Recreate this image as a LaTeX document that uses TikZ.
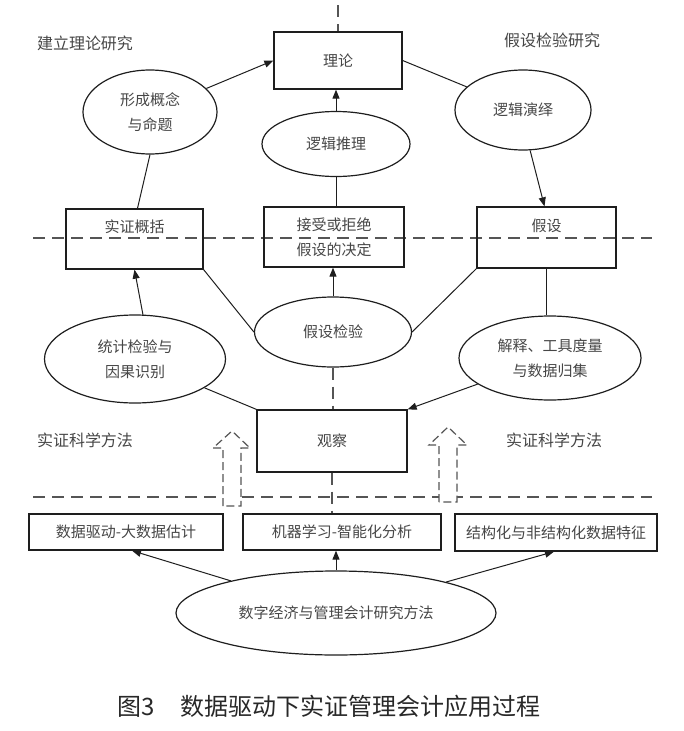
\documentclass[tikz,border=0pt]{standalone}
\usepackage{fontspec}
\setmainfont{Noto Sans CJK SC}
\usetikzlibrary{shapes.geometric,arrows.meta,calc}
\definecolor{txt}{RGB}{70,70,70}
\definecolor{ln}{RGB}{30,30,30}
\definecolor{dsh}{RGB}{85,85,85}
\definecolor{cap}{RGB}{40,40,40}
\newcommand\labfont{\fontsize{15}{25}\selectfont}
\newcommand\toplabfont{\fontsize{16}{25}\selectfont}
\newcommand\capfont{\fontsize{24}{28}\selectfont}
\begin{document}
\begin{tikzpicture}[x=1pt,y={(0pt,-1pt)},
  box/.style={draw=ln, line width=1.3pt, rectangle, inner sep=0pt, font=\labfont, text=txt, align=center},
  ell/.style={draw=ln, line width=1.2pt, ellipse, inner sep=0pt, font=\labfont, text=txt, align=center},
  conn/.style={draw=ln, line width=1pt},
  arr/.style={conn, -{Triangle[length=9pt,width=7pt]}},
  dl/.style={draw=dsh, line width=1.3pt, dash pattern=on 12pt off 7pt},
  hollow/.style={draw=dsh, line width=1.2pt, dash pattern=on 8pt off 4pt, fill=white},
  lbl/.style={font=\toplabfont, text=txt}]
\useasboundingbox (0,0) rectangle (684,731);

% horizontal dashed separators
\coordinate (hA1) at (33,238);
\coordinate (hA2) at (652,238);
\coordinate (hB1) at (33,497);
\coordinate (hB2) at (652,497);
\draw[dl] (hA1) -- (hA2);
\draw[dl] (hB1) -- (hB2);

% section labels
\node[lbl] (l1) at (85,43) {建立理论研究};
\node[lbl] (l2) at (552,40) {假设检验研究};
\node[lbl] (l3) at (85,440) {实证科学方法};
\node[lbl] (l4) at (554,440) {实证科学方法};

% nodes
\node[box, minimum width=128pt, minimum height=57pt] (theory) at (338,60.5) {理论};
\node[ell, minimum width=134pt, minimum height=84pt] (xing) at (150,112) {形成概念\\与命题};
\node[ell, minimum width=148pt, minimum height=65pt] (tuili) at (336,144) {逻辑推理};
\node[ell, minimum width=136pt, minimum height=80pt] (yanyi) at (523,110) {逻辑演绎};
\node[box, minimum width=137pt, minimum height=60pt] (gaikuo) at (134.5,239) {实证概括\\~};
\node[box, minimum width=140pt, minimum height=60pt] (jieshou) at (334,237) {接受或拒绝\\假设的决定};
\node[box, minimum width=139pt, minimum height=61pt] (jiashe) at (546.5,237.5) {假设\\~};
\node[ell, minimum width=181pt, minimum height=88pt] (tongji) at (135,359) {统计检验与\\因果识别};
\node[ell, minimum width=157pt, minimum height=70pt] (jianyan) at (333,332) {假设检验};
\node[ell, minimum width=182pt, minimum height=84pt] (jieshi) at (550,358) {解释、工具度量\\与数据归集};
\node[box, minimum width=150pt, minimum height=62pt] (guancha) at (332,441) {观察};
\node[box, minimum width=194pt, minimum height=36pt] (b1) at (126,532) {数据驱动-大数据估计};
\node[box, minimum width=198pt, minimum height=36pt] (b2) at (342,532) {机器学习-智能化分析};
\node[box, minimum width=202pt, minimum height=37pt] (b3) at (556,532.5) {结构化与非结构化数据特征};
\node[ell, minimum width=320pt, minimum height=84pt] (root) at (336,613) {数字经济与管理会计研究方法};

% vertical dashed centre line
\coordinate (vtop) at (338,5);
\draw[dl] (vtop) -- (theory.north);
\draw[dl] (jianyan.south) -- (jianyan.south |- guancha.north);
\draw[dl] (guancha.south) -- (guancha.south |- b2.north);

% hollow dashed arrows
\draw[hollow] (223,506) -- (223,448) -- (213,448) -- (232,431) -- (250,448) -- (241,448) -- (241,506) -- cycle;
\draw[hollow] (439,502) -- (439,445) -- (429,445) -- (448,427) -- (467,445) -- (457,445) -- (457,502) -- cycle;

% connectors
\draw[arr] (xing) -- (theory.west);
\draw[conn] (xing.south) -- ($(gaikuo.north)+(3,0)$);
\draw[conn] (theory.east) -- (yanyi);
\draw[arr] (yanyi.-80) -- ($(jiashe.north)+(-2,0)$);
\draw[arr] (tuili.north) -- (tuili.north |- theory.south);
\draw[conn] (tuili.south) -- (tuili.south |- jieshou.north);
\draw[conn] (gaikuo.south east) -- (jianyan.west);
\draw[conn] (jianyan.east) -- (jiashe.south west);
\draw[arr] (jianyan.north) -- (jianyan.north |- jieshou.south);
\draw[arr] ($(tongji.north)+(8,0.5)$) -- (gaikuo.south);
\draw[conn] (jiashe.south) -- (jiashe.south |- jieshi.north);
\draw[conn] (tongji) -- (guancha.north west);
\draw[arr] (jieshi) -- (guancha.north east);
\draw[arr] (root) -- ($(b1.south)+(6,0)$);
\draw[arr] (root.north) -- (root.north |- b2.south);
\draw[arr] (root) -- ($(b3.south)+(-2,0)$);

% caption
\node[font=\capfont, text=cap] (caption) at (329,706) {图3\hspace{26pt}数据驱动下实证管理会计应用过程};
\end{tikzpicture}
\end{document}
